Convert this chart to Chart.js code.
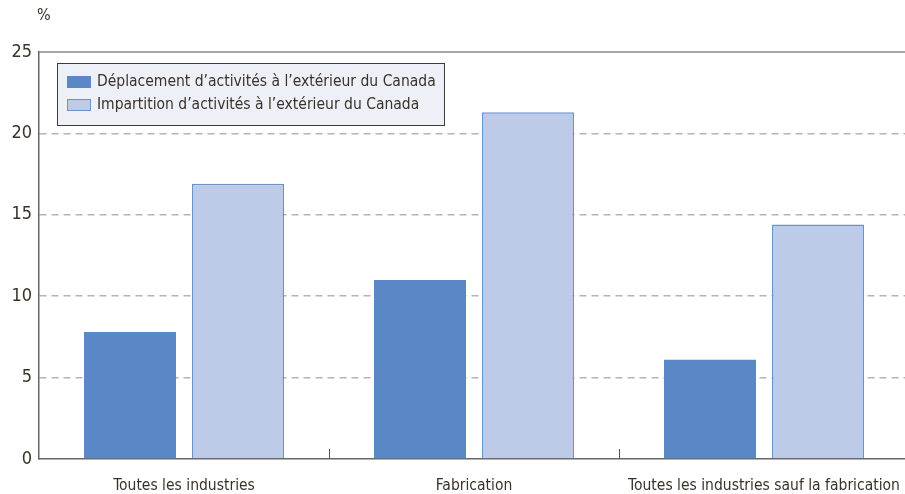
<!DOCTYPE html>
<html>
<head>
<meta charset="utf-8">
<script src="https://cdn.jsdelivr.net/npm/chart.js@4"></script>
<style>
  html, body { margin: 0; padding: 0; background: #fff; overflow: hidden; }
  canvas { display: block; }
</style>
</head>
<body>
<canvas id="graphique" width="912" height="494"></canvas>
<script>
const categories = ['Toutes les industries', 'Fabrication', 'Toutes les industries sauf la fabrication'];
const serieDeplacement = [7.8, 11.0, 6.1];
const serieImpartition = [16.9, 21.3, 14.4];
const nomsSeries = ['Déplacement d’activités à l’extérieur du Canada', 'Impartition d’activités à l’extérieur du Canada'];
const graduations = [0, 5, 10, 15, 20, 25];

const policeTexte = "'Liberation Sans Narrow', 'DejaVu Sans Condensed', sans-serif";
const couleurTexte = '#3a3228';

// Légende encadrée dans la zone du graphique, ticks entre catégories, bordure du haut, symbole %
const decorations = {
    id: 'decorations',
    afterDraw(chart) {
        const ctx = chart.ctx;
        const area = chart.chartArea;
        const x = chart.scales.x;
        ctx.save();

        // bordure du haut
        ctx.strokeStyle = '#8a8a8a';
        ctx.lineWidth = 1.5;
        ctx.beginPath();
        ctx.moveTo(area.left, area.top);
        ctx.lineTo(area.right, area.top);
        ctx.stroke();

        // petits traits entre les catégories
        ctx.strokeStyle = '#555';
        ctx.lineWidth = 1;
        for (let i = 1; i < categories.length; i++) {
            const px = Math.round((x.getPixelForValue(i - 1) + x.getPixelForValue(i)) / 2) + 0.5;
            ctx.beginPath();
            ctx.moveTo(px, area.bottom);
            ctx.lineTo(px, area.bottom - 10);
            ctx.stroke();
        }

        // symbole %
        ctx.fillStyle = couleurTexte;
        ctx.font = "16px " + policeTexte;
        ctx.textAlign = 'left';
        ctx.textBaseline = 'middle';
        ctx.fillText('%', 37, 16);

        // légende
        const bx = 57.5, by = 63.5, bw = 387, bh = 62;
        ctx.fillStyle = '#eef0f8';
        ctx.fillRect(bx, by, bw, bh);
        ctx.strokeStyle = '#3c3c3c';
        ctx.lineWidth = 1;
        ctx.strokeRect(bx, by, bw, bh);
        chart.data.datasets.forEach((ds, i) => {
            const ly = 76 + i * 23;
            ctx.fillStyle = ds.backgroundColor;
            ctx.fillRect(67, ly, 24, 12);
            if (i === 1) {
                ctx.strokeStyle = ds.borderColor;
                ctx.strokeRect(67.5, ly + 0.5, 23, 11);
            }
            ctx.fillStyle = couleurTexte;
            ctx.font = "15.5px " + policeTexte;
            ctx.fillText(ds.label, 97, ly + 6);
        });
        ctx.restore();
    }
};

new Chart(document.getElementById('graphique'), {
    type: 'bar',
    data: {
        labels: categories,
        datasets: [
            {
                label: nomsSeries[0],
                data: serieDeplacement,
                backgroundColor: '#5a88c6',
                borderWidth: 0,
                categoryPercentage: 0.745,
                barPercentage: 0.852
            },
            {
                label: nomsSeries[1],
                data: serieImpartition,
                backgroundColor: '#bdcbe8',
                borderColor: '#6a93cc',
                borderWidth: 1.5,
                categoryPercentage: 0.745,
                barPercentage: 0.852
            }
        ]
    },
    options: {
        responsive: false,
        maintainAspectRatio: false,
        animation: false,
        devicePixelRatio: 1,
        layout: { padding: { top: 52, right: 3, left: 0, bottom: 0 } },
        plugins: {
            legend: { display: false },
            tooltip: { enabled: false }
        },
        scales: {
            x: {
                grid: { display: false },
                border: { display: true, color: '#666', width: 1.5 },
                ticks: {
                    color: couleurTexte,
                    font: { family: policeTexte, size: 15.5 },
                    padding: 10,
                    maxRotation: 0,
                    autoSkip: false
                },
                afterFit(scale) { scale.height = 35; }
            },
            y: {
                min: 0,
                max: 25,
                afterBuildTicks(scale) { scale.ticks = graduations.map(v => ({ value: v })); },
                grid: {
                    color: ctx => (ctx.tick && (ctx.tick.value === 0 || ctx.tick.value === 25)) ? 'rgba(0,0,0,0)' : '#b4b4b4',
                    lineWidth: 1.5,
                    drawTicks: false
                },
                border: { display: true, color: '#666', width: 1.5, dash: [7, 5] },
                ticks: {
                    color: couleurTexte,
                    font: { family: policeTexte, size: 18 },
                    padding: 7
                },
                afterFit(scale) { scale.width = 39; }
            }
        }
    },
    plugins: [decorations]
});
</script>
</body>
</html>
